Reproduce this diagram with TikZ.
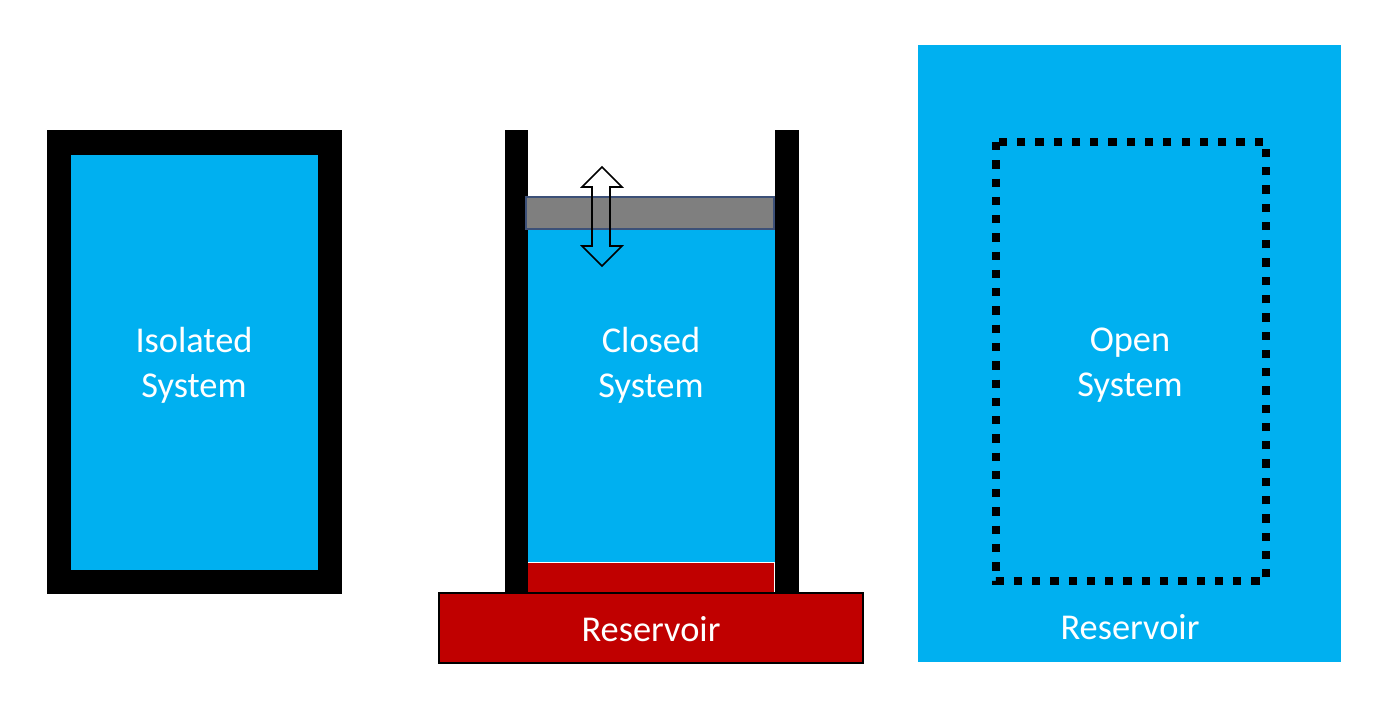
\documentclass[tikz,border=0pt]{standalone}
\usepackage{fontspec}
\setmainfont{Carlito}
\usetikzlibrary{positioning}
\definecolor{sysblue}{RGB}{0,176,240}
\definecolor{resred}{RGB}{192,0,0}
\definecolor{pistongray}{RGB}{127,127,127}
\definecolor{pistonedge}{RGB}{60,80,120}
\tikzstyle{label} = [text=white, font=\fontsize{20.7}{25.5}\selectfont, align=center]
\tikzstyle{wall} = [fill=black]
\tikzstyle{boundary} = [draw=black, line width=4.7pt, dash pattern=on 4.7pt off 5.7pt]

\begin{document}
\begin{tikzpicture}[x=0.02cm,y=-0.02cm]
\useasboundingbox (0,0) rectangle (1383,702);

% isolated
\fill[black] (47,130) rectangle (342,594);
\fill[sysblue] (71,155) rectangle (318,570);
\node(isolated)[label] at (194,365) {Isolated\\System};

% closed
\fill[wall] (505,130) rectangle (528,593);
\fill[wall] (775,130) rectangle (799,593);
\fill[sysblue] (528,228) rectangle (775,562);
\fill[resred] (528,563) rectangle (774,592);
\draw[fill=pistongray,draw=pistonedge,line width=0.6pt] (526,197) rectangle (774,229);
\draw[line width=0.9pt] (592,187) -- (582,187) -- (602,167) -- (622,187) -- (610,187)
  -- (610,246) -- (622,246) -- (602,266) -- (582,246) -- (592,246) -- cycle;
\draw[fill=resred,draw=black,line width=1.1pt] (439,593) rectangle (863,663);
\node(closed)[label] at (651,365) {Closed\\System};
\node(reservoir_a)[label] at (651,629) {Reservoir};

% open
\fill[sysblue] (918,45) rectangle (1341,662);
\draw[boundary] (996,142) rectangle (1266,581);
\node(open)[label] at (1130,365) {Open\\System};
\node(reservoir_b)[label] at (1130,627) {Reservoir};

\end{tikzpicture}
\end{document}
